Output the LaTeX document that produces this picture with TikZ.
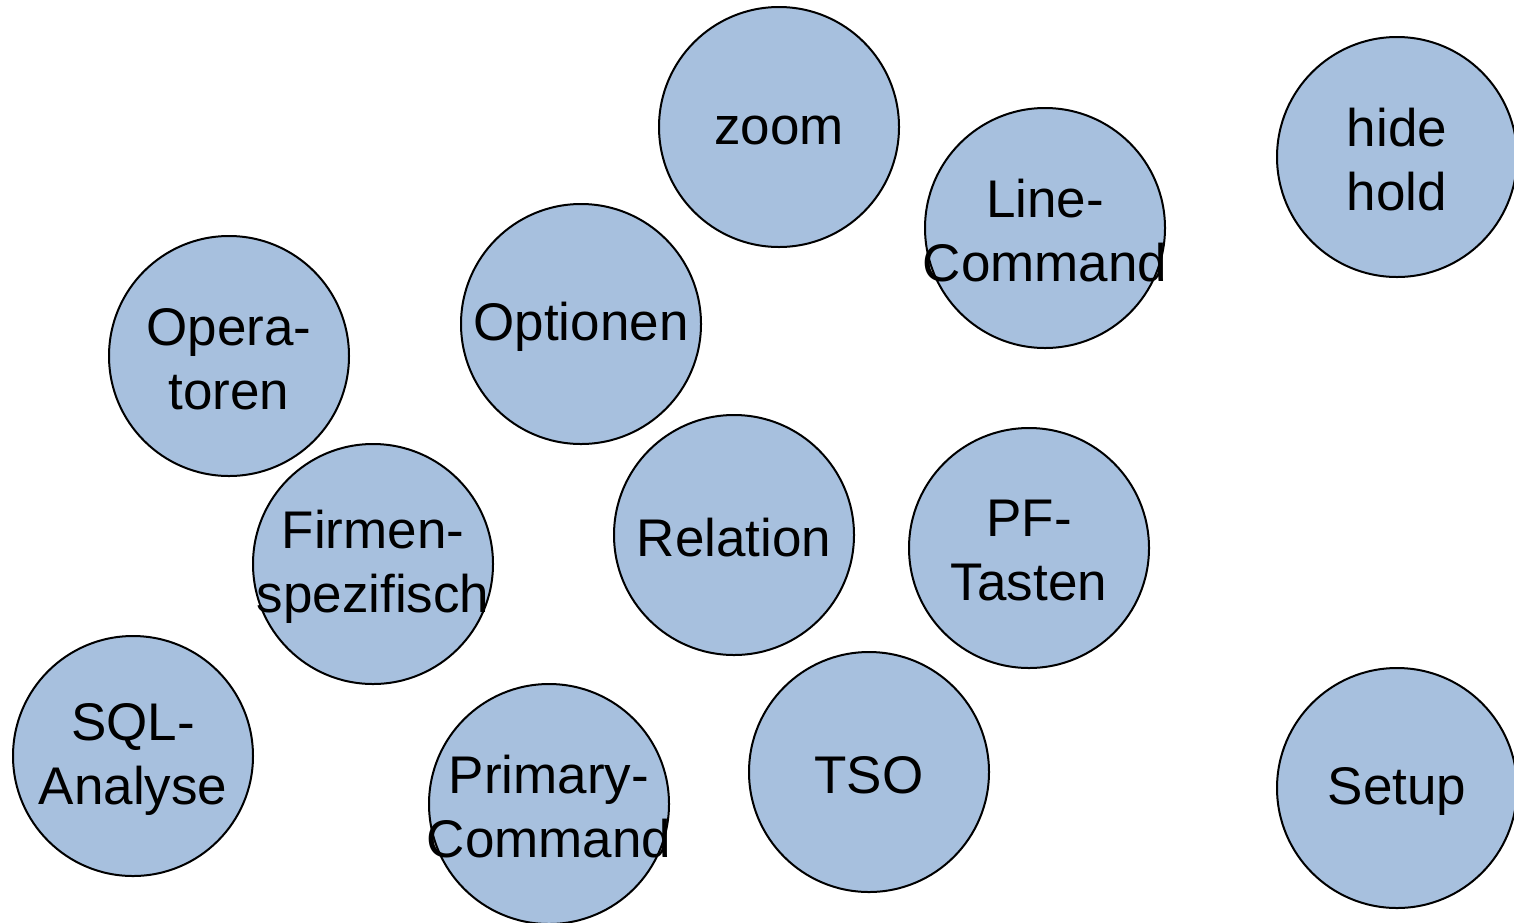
\documentclass[tikz,border=0pt]{standalone}
\usepackage{fontspec}
\setmainfont{Liberation Sans}
\usepackage{tikz}

\definecolor{topicblue}{RGB}{167,192,222}

\begin{document}
\begin{tikzpicture}[x=0.5pt, y=-0.5pt,
        topictext/.style={align=center, inner sep=0pt, yshift=-1.5pt,
            font=\fontsize{26.5pt}{32pt}\selectfont},
        topic/.style={circle, draw=black, line width=1pt, fill=topicblue,
            minimum size=120pt, inner sep=0pt,
            label={[topictext]center:#1}}]
        \useasboundingbox (0,0) rectangle (1514,922);

        % top row
        \node[topic={zoom}] (zoom) at (779,127) {};
        \node[topic={Line-\\Command}] (linecmd) at (1045,228) {};
        \node[topic={hide\\hold}] (hidehold) at (1397,157) {};

        % middle
        \node[topic={Opera-\\toren}] (operatoren) at (229,356) {};
        \node[topic={Optionen}] (optionen) at (581,324) {};
        \node[topic={Firmen-\\spezifisch}] (firmen) at (373,564) {};
        \node[topic={Relation}] (relation) at (734,535) {};
        \node[topic={PF-\\Tasten}] (pftasten) at (1029,548) {};

        % bottom row
        \node[topic={SQL-\\Analyse}] (sqlanalyse) at (133,756) {};
        \node[topic={Primary-\\Command}] (primarycmd) at (549,804) {};
        \node[topic={TSO}] (tso) at (869,772) {};
        \node[topic={Setup}] (setup) at (1397,788) {};
    \end{tikzpicture}
\end{document}
